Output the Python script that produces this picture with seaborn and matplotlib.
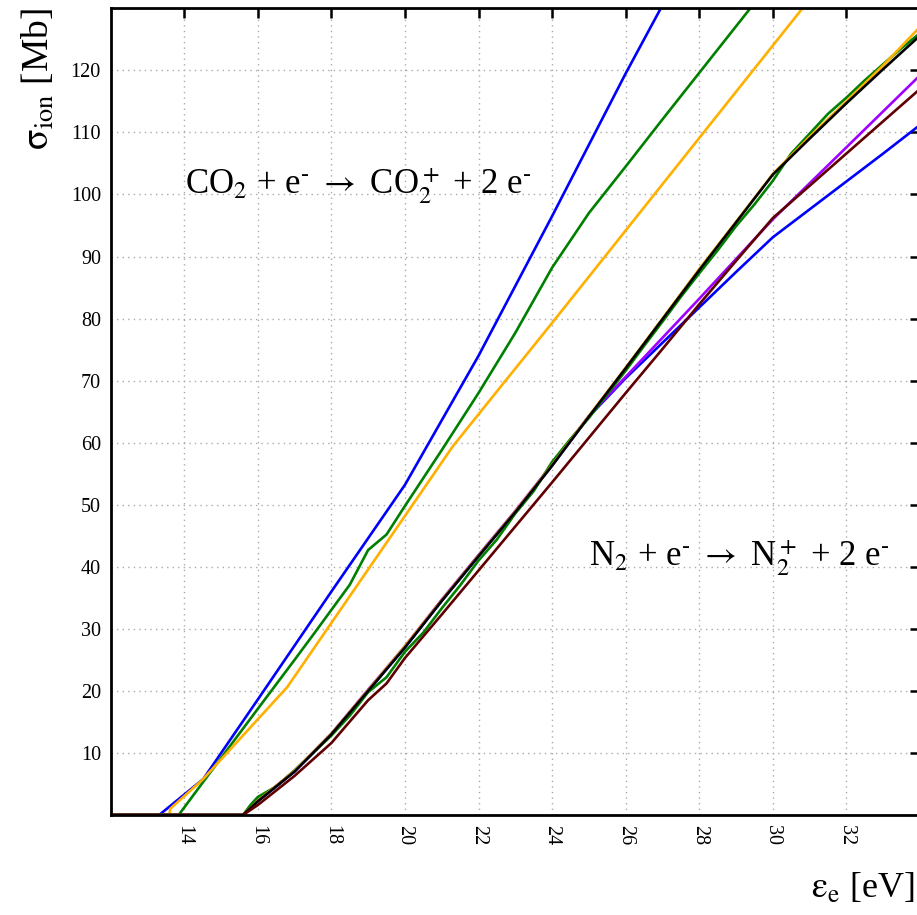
import matplotlib
matplotlib.use("Agg")
import matplotlib.pyplot as plt
import numpy as np
import pandas as pd
import seaborn as sns

# ---- ionisation cross sections [Mb] vs electron energy [eV] ----
# CO2 + e- -> CO2+ + 2e-
co2_blue_x = [12, 13.32, 14.52, 16, 18, 20, 22, 24, 26, 27, 28]
co2_blue_y = [0, 0, 5.8, 18.6, 36.0, 53.2, 74.0, 96.5, 119.5, 130.5, 141.0]

co2_green_x = [12, 13.85, 14.5, 16, 17, 17.55, 18.5, 19, 19.5, 20, 21, 22, 23, 24,
               25, 26, 27, 28, 29, 30, 31]
co2_green_y = [0, 0, 5.2, 17.1, 25.0, 29.4, 37.1, 42.7, 45.2, 49.8, 58.8, 68.0, 77.7,
               88.2, 97.0, 104.5, 112.1, 119.6, 127.1, 134.6, 142.0]

co2_orange_x = [12, 13.6, 13.62, 14.5, 16.8, 21.3, 22.6, 24, 26, 28, 30, 32]
co2_orange_y = [0, 0, 1.0, 5.7, 20.6, 59.4, 69.0, 79.3, 94.2, 109.1, 124.0, 138.9]

# N2 + e- -> N2+ + 2e-
n2_x = [12, 15.6, 16, 17, 18, 19, 20, 21, 22, 23, 24, 25, 26, 27, 28, 29, 30,
        31, 32, 33, 34]
n2_black_y = [0, 0, 2.2, 7.0, 13.0, 20.0, 27.0, 34.5, 41.7, 48.8, 56.3, 64.2, 72.0,
              79.9, 87.8, 95.5, 103.2, 109.0, 114.7, 120.2, 125.6]
n2_orange_y = [0, 0, 2.3, 7.1, 13.1, 20.1, 27.2, 34.6, 41.8, 48.9, 56.4, 64.3, 72.1,
               80.0, 88.0, 95.6, 103.3, 109.3, 115.0, 120.8, 127.0]
n2_purple_y = [0, 0, 2.3, 7.1, 13.1, 20.2, 27.2, 34.7, 41.9, 49.0, 56.5, 64.3, 70.6,
               76.9, 83.2, 89.6, 96.0, 101.8, 107.6, 113.4, 119.2]
n2_blue_y = [0, 0, 2.2, 7.0, 13.0, 20.0, 27.0, 34.5, 41.7, 48.8, 56.3, 64.2, 70.4,
             76.1, 81.8, 87.5, 93.1, 97.6, 102.1, 106.6, 111.2]

n2_green_x = [12, 15.6, 15.8, 16, 16.5, 17, 17.5, 18, 18.5, 19, 19.5, 20, 20.5, 21,
              21.5, 22, 22.5, 23, 23.5, 24, 24.5, 25, 25.5, 26, 26.5, 27, 27.5, 28,
              28.5, 29, 29.5, 30, 30.5, 31, 31.5, 32, 32.5, 33, 33.5, 34]
n2_green_y = [0, 0, 1.6, 2.9, 4.6, 7.2, 10.0, 12.8, 16.0, 19.8, 22.2, 26.3, 29.4,
              33.3, 37.0, 41.0, 44.4, 48.6, 52.2, 56.9, 60.6, 64.0, 67.8, 71.6, 75.6,
              79.5, 83.5, 87.3, 91.0, 94.9, 98.4, 102.2, 106.6, 109.8, 113.0, 115.6,
              118.4, 121.0, 123.6, 126.0]

n2_maroon_x = [12, 15.6, 16, 17, 18, 19, 19.5, 20, 21, 22, 23, 24, 25, 26, 27, 28,
               29, 30, 31, 32, 33, 34]
n2_maroon_y = [0, 0, 1.6, 6.3, 11.6, 18.5, 21.2, 25.3, 32.3, 39.4, 46.5, 53.6, 60.8,
               68.0, 75.1, 82.3, 89.3, 96.2, 101.4, 106.6, 111.8, 117.0]

x_ticks = [14, 16, 18, 20, 22, 24, 26, 28, 30, 32]
y_ticks = [10, 20, 30, 40, 50, 60, 70, 80, 90, 100, 110, 120]

series = [
    ("CO2 a", co2_blue_x, co2_blue_y, "#0000ff"),
    ("CO2 b", co2_green_x, co2_green_y, "#008000"),
    ("CO2 c", co2_orange_x, co2_orange_y, "#ffb000"),
    ("N2 a", n2_x, n2_blue_y, "#0000ff"),
    ("N2 b", n2_x, n2_purple_y, "#a000ff"),
    ("N2 c", n2_green_x, n2_green_y, "#008000"),
    ("N2 d", n2_x, n2_orange_y, "#ffb000"),
    ("N2 e", n2_x, n2_black_y, "#000000"),
    ("N2 f", n2_maroon_x, n2_maroon_y, "#600000"),
]

frames = []
for name, xs, ys, _ in series:
    frames.append(pd.DataFrame({"energy": xs, "sigma": ys, "curve": name}))
df = pd.concat(frames, ignore_index=True)
palette = {name: col for name, _, _, col in series}
order = [name for name, _, _, _ in series]

sns.set_style("white")
plt.rcParams["font.family"] = ["Liberation Serif", "DejaVu Serif"]
plt.rcParams["mathtext.fontset"] = "stix"
plt.rcParams["text.color"] = "black"
plt.rcParams["axes.labelcolor"] = "black"
plt.rcParams["xtick.color"] = "black"
plt.rcParams["ytick.color"] = "black"

fig = plt.figure(figsize=(9.17, 9.15), dpi=100)
ax = fig.add_axes([110.6 / 917, 100 / 915, (920 - 110.6) / 917, (815 - 8.3) / 915])

sns.lineplot(data=df, x="energy", y="sigma", hue="curve", hue_order=order,
             palette=palette, estimator=None, sort=False, units="curve",
             linewidth=1.9, legend=False, ax=ax)

ax.set_xlim(12, 34)
ax.set_ylim(0, 130)
ax.set_xticks(x_ticks)
ax.set_yticks(y_ticks)
ax.set_xticklabels([str(v) for v in x_ticks], rotation=-90, fontsize=14.5)
ax.set_yticklabels([str(v) for v in y_ticks], fontsize=14.5)
ax.tick_params(direction="in", length=7, width=1.8, top=True, right=True,
               labeltop=False, labelright=False, pad=7, colors="black")
for s in ax.spines.values():
    s.set_visible(True)
    s.set_linewidth(2.0)
    s.set_color("black")
ax.grid(True, linestyle=(0, (1, 3)), color="#aaaaaa", linewidth=1.0)
ax.set_axisbelow(True)

ax.set_xlabel(r"$\mathrm{\varepsilon_e}$ [eV]", fontsize=26, ha="right")
ax.xaxis.set_label_coords((915 - 110.6) / (920 - 110.6), -0.07)
ax.set_ylabel(r"$\mathrm{\sigma_{ion}}$ [Mb]", fontsize=27, ha="right")
ax.yaxis.set_label_coords(-0.067, 1.0)

minus_sup = r"$^{\text{-}}$"
arrow = r"$\rightarrow$"
ax.text(14.02, 100, "CO$_2$ + e" + minus_sup + " " + arrow + " CO$_2^+$ + 2 e" + minus_sup,
        fontsize=25, ha="left", va="baseline")
ax.text(25.0, 40, "N$_2$ + e" + minus_sup + " " + arrow + " N$_2^+$ + 2 e" + minus_sup,
        fontsize=25, ha="left", va="baseline")

fig.savefig("out.png", dpi=100)
